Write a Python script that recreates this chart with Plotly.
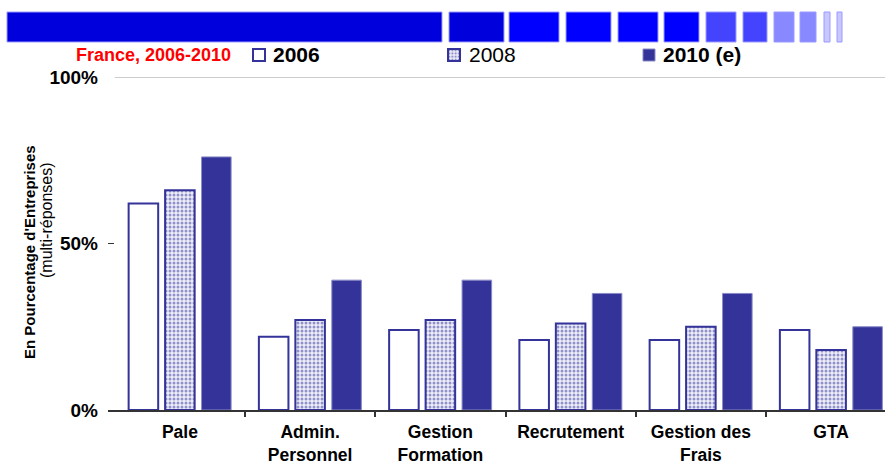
import plotly.graph_objects as go

# ---------------- data ----------------
categories = ["Pale", "Admin.<br>Personnel", "Gestion<br>Formation",
              "Recrutement", "Gestion des<br>Frais", "GTA"]
v2006 = [62, 22, 24, 21, 21, 24]
v2008 = [66, 27, 27, 26, 25, 18]
v2010 = [76, 39, 39, 35, 35, 25]
series_names = ["2006", "2008", "2010 (e)"]
y_tickvals = [0, 50, 100]
y_ticktext = ["0%", "50%", "100%"]
subtitle = "France, 2006-2010"
y_title_1 = "En Pourcentage d'Entreprises"
y_title_2 = "(multi-réponses)"

# ---------------- geometry helpers ----------------
W, H = 885, 466
L, R, T, B = 108, 0, 77, 56
PW, PH = W - L - R, H - T - B


def px(xp):
    return (xp - L) / PW


def py(yp):
    return (H - B - yp) / PH


FONT = "Liberation Sans, Arial, sans-serif"
NAVY = "#333399"

fig = go.Figure()
fig.add_trace(go.Bar(
    x=categories, y=v2006, name=" ",
    marker=dict(color="white", line=dict(color=NAVY, width=2)),
))
fig.add_trace(go.Bar(
    x=categories, y=v2008, name=" ",
    marker=dict(color="white", line=dict(color=NAVY, width=2),
                pattern=dict(shape=".", fgcolor=NAVY, bgcolor="#eeeef8",
                             size=4, solidity=0.45)),
))
fig.add_trace(go.Bar(
    x=categories, y=v2010, name=" ",
    marker=dict(color=NAVY, line=dict(color="#8a8ac8", width=1)),
))
# empty trace to carry the category-boundary tick axis
fig.add_trace(go.Scatter(x=[], y=[], xaxis="x2", yaxis="y",
                         showlegend=False, hoverinfo="skip"))

x_start = -0.5 - (114.75 - L) / 130.25
xr = [x_start, x_start + PW / 130.25]

# header band (decoration)
header = [(7, 442, "#0000DD"), (449, 504, "#0000DD"), (509, 559, "#0000FF"),
          (566, 611, "#0000FF"), (618, 658, "#0000FF"), (664, 699, "#0000FF"),
          (706, 736, "#4444FF"), (743, 767, "#4444FF"), (774, 794, "#8888FF"),
          (800, 816, "#8888FF"), (824, 830, "#C8C8FF"), (837, 842, "#C8C8FF")]
shapes = []
for x0, x1, c in header:
    shapes.append(dict(type="rect", xref="paper", yref="paper",
                       x0=px(x0), x1=px(x1), y0=py(42), y1=py(12),
                       fillcolor=c, line=dict(color="#9a9aff", width=1),
                       layer="above"))
shapes.append(dict(type="line", xref="paper", yref="y",
                   x0=px(114.75), x1=1, y0=100, y1=100,
                   line=dict(color="#9a9a9a", width=1)))

annotations = [
    dict(text=subtitle, xref="paper", yref="paper", x=px(233), y=py(55),
         xanchor="right", yanchor="middle", showarrow=False,
         font=dict(family="Liberation Sans Narrow, " + FONT, size=18,
                   color="#FF0000", weight="bold")),
    dict(text=series_names[0], xref="paper", yref="paper", x=px(271), y=py(55),
         xanchor="left", yanchor="middle", showarrow=False,
         font=dict(family=FONT, size=21, color="black", weight="bold")),
    dict(text=series_names[1], xref="paper", yref="paper", x=px(467), y=py(55),
         xanchor="left", yanchor="middle", showarrow=False,
         font=dict(family=FONT, size=21, color="black")),
    dict(text=series_names[2], xref="paper", yref="paper", x=px(661), y=py(55),
         xanchor="left", yanchor="middle", showarrow=False,
         font=dict(family=FONT, size=21, color="black", weight="bold")),
    dict(text=y_title_1, xref="paper", yref="paper", x=px(29), y=py(252),
         xanchor="center", yanchor="middle", showarrow=False, textangle=-90,
         font=dict(family=FONT, size=15, color="black", weight="bold")),
    dict(text=y_title_2, xref="paper", yref="paper", x=px(46), y=py(220),
         xanchor="center", yanchor="middle", showarrow=False, textangle=-90,
         font=dict(family=FONT, size=16, color="black")),
]

fig.update_layout(
    width=W, height=H,
    margin=dict(l=L, r=R, t=T, b=B, pad=0, autoexpand=False),
    paper_bgcolor="white", plot_bgcolor="white",
    barmode="group", bargap=0.16, bargroupgap=0.19,
    font=dict(family=FONT, color="black"),
    showlegend=True,
    legend=dict(orientation="h", x=px(239), y=py(55), xanchor="left",
                yanchor="middle", entrywidth=150, entrywidthmode="pixels",
                font=dict(size=12), bgcolor="rgba(0,0,0,0)",
                traceorder="normal", itemclick=False),
    xaxis=dict(type="category", range=xr, showline=True, linecolor="#333333",
               linewidth=1.5, ticks="", showgrid=False, zeroline=False,
               automargin=False,
               tickfont=dict(size=17.5, weight="bold", color="black"),
               ticklabelstandoff=5),
    xaxis2=dict(overlaying="x", anchor="y", range=xr, showgrid=False,
                zeroline=False, showline=False, showticklabels=False,
                automargin=False, tickmode="array",
                tickvals=[i + 0.5 for i in range(len(categories) - 1)],
                ticks="outside", ticklen=6, tickcolor="#333333", tickwidth=1.5),
    yaxis=dict(range=[0, 100], tickmode="array", tickvals=y_tickvals,
               ticktext=y_ticktext, ticks="inside", ticklen=6,
               tickcolor="#333333", tickwidth=1, showgrid=False,
               zeroline=False, showline=False, automargin=False,
               tickfont=dict(size=19, weight="bold", color="black"),
               ticklabelstandoff=9),
    shapes=shapes,
    annotations=annotations,
)

fig.write_html("out.html",
               config={"displayModeBar": False},
               post_script="document.body.style.margin='0';")
